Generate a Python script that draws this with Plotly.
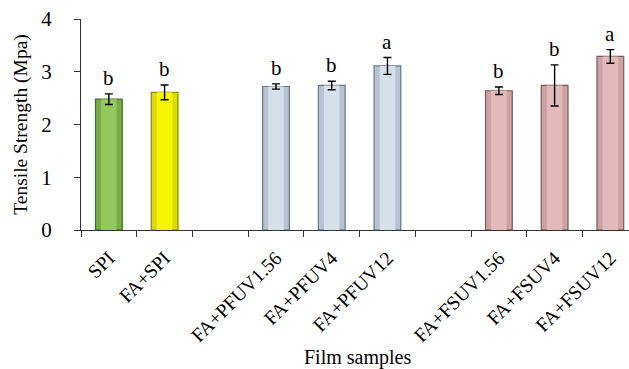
import plotly.graph_objects as go

categories = ["SPI", "FA+SPI", " ", "FA+PFUV1.56", "FA+PFUV4", "FA+PFUV12", "  ",
              "FA+FSUV1.56", "FA+FSUV4", "FA+FSUV12"]
values = [2.48, 2.61, None, 2.72, 2.74, 3.11, None, 2.64, 2.74, 3.29]
errors = [0.10, 0.14, None, 0.05, 0.08, 0.16, None, 0.07, 0.39, 0.13]
letters = ["b", "b", "", "b", "b", "a", "", "b", "b", "a"]

edge_colors = ["#78AA46", "#DADA00", "#FFFFFF", "#B6C4D2", "#B6C4D2", "#B6C4D2", "#FFFFFF",
               "#CCA2A2", "#CCA2A2", "#CCA2A2"]
fill_colors = ["#92C85C", "#F6F600", "#FFFFFF", "#D4E0EA", "#D4E0EA", "#D4E0EA", "#FFFFFF",
               "#E2BABA", "#E2BABA", "#E2BABA"]
line_colors = ["#4A6A2A", "#8A8A00", "#FFFFFF", "#6A7684", "#6A7684", "#6A7684", "#FFFFFF",
               "#7A5A5A", "#7A5A5A", "#7A5A5A"]

FONT = "Liberation Serif, Times New Roman, serif"

fig = go.Figure()
fig.add_trace(go.Bar(
    x=categories, y=values, width=0.48,
    marker=dict(color=edge_colors, line=dict(color=line_colors, width=1.2)),
    showlegend=False, hoverinfo="skip",
))
fig.add_trace(go.Bar(
    x=categories, y=values, width=0.28,
    marker=dict(color=fill_colors, line=dict(width=0)),
    error_y=dict(type="data", array=errors, visible=True, color="black",
                 thickness=1.4, width=4),
    showlegend=False,
))

for c, v, e, l in zip(categories, values, errors, letters):
    if v is None:
        continue
    fig.add_annotation(x=c, y=v + e, text=l, showarrow=False, yanchor="bottom",
                       yshift=2, font=dict(family=FONT, size=21, color="black"))

fig.add_annotation(xref="paper", yref="paper", x=0.505, y=-0.605, text="Film samples",
                   showarrow=False, yanchor="middle",
                   font=dict(family=FONT, size=20, color="black"))

fig.update_layout(
    width=629, height=369,
    margin=dict(l=81, r=0, t=19, b=139),
    barmode="overlay",
    plot_bgcolor="white", paper_bgcolor="white",
    font=dict(family=FONT, color="black"),
    xaxis=dict(
        type="category", range=[-0.5, 9.335], tickson="boundaries",
        ticks="outside", ticklen=6, tickcolor="#333", tickangle=-45,
        ticklabelstandoff=8,
        showline=True, linecolor="#333", linewidth=1, showgrid=False,
        tickfont=dict(family=FONT, size=19.5, color="black"),
    ),
    yaxis=dict(
        range=[0, 4], tickvals=[0, 1, 2, 3, 4], ticks="outside", ticklen=6,
        ticklabelstandoff=18,
        tickcolor="#333", showline=True, linecolor="#333", linewidth=1,
        showgrid=False, zeroline=False,
        tickfont=dict(family=FONT, size=21, color="black"),
        title=dict(text="Tensile Strength (Mpa)", standoff=8,
                   font=dict(family=FONT, size=19.5, color="black")),
    ),
)

fig.write_html("out.html")
